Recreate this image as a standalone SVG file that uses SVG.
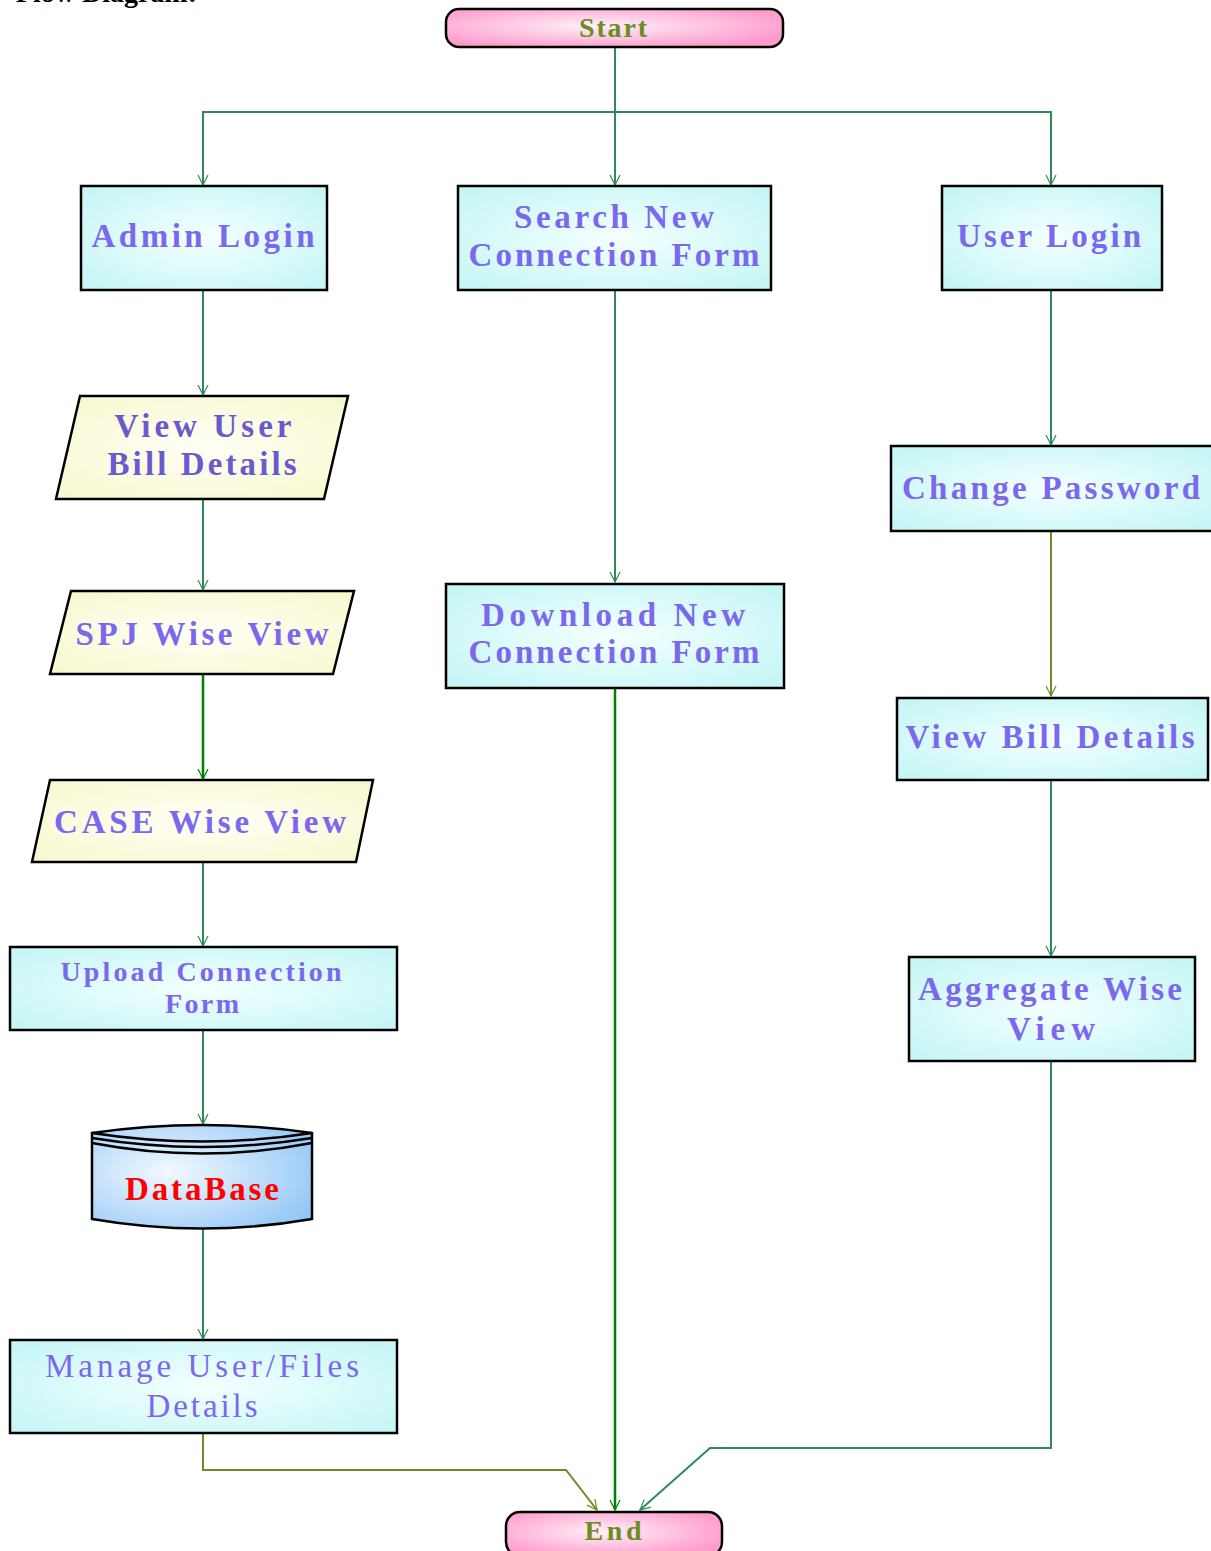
<svg xmlns="http://www.w3.org/2000/svg" width="1211" height="1551" viewBox="0 0 1211 1551">
  <defs>
    <radialGradient id="gCyan" cx="50%" cy="50%" r="65%">
      <stop offset="0" stop-color="#f4ffff"/>
      <stop offset="1" stop-color="#c6f6f6"/>
    </radialGradient>
    <radialGradient id="gYellow" cx="50%" cy="50%" r="65%">
      <stop offset="0" stop-color="#fffff6"/>
      <stop offset="1" stop-color="#f8f8d0"/>
    </radialGradient>
    <radialGradient id="gPink" cx="45%" cy="45%" r="60%">
      <stop offset="0" stop-color="#fff0f8"/>
      <stop offset="1" stop-color="#ff9ccc"/>
    </radialGradient>
    <radialGradient id="gBlue" cx="35%" cy="45%" r="75%">
      <stop offset="0" stop-color="#f2f9ff"/>
      <stop offset="1" stop-color="#92c6f6"/>
    </radialGradient>
    <!-- open V arrowhead, tip at the path end -->
    <marker id="arrow" viewBox="-12 -7 14 14" refX="0" refY="0" markerWidth="14" markerHeight="14" markerUnits="userSpaceOnUse" orient="auto" overflow="visible">
      <path d="M-10,-5 L0,0 L-10,5" fill="none" stroke="context-stroke" stroke-width="1.2"/>
    </marker>
    <marker id="arrowStart" viewBox="-12 -7 14 14" refX="0" refY="0" markerWidth="14" markerHeight="14" markerUnits="userSpaceOnUse" orient="auto-start-reverse" overflow="visible">
      <path d="M-10,-5 L0,0 L-10,5" fill="none" stroke="context-stroke" stroke-width="1.2"/>
    </marker>
  </defs>
  <style>
    .box { fill: url(#gCyan); stroke: #000; stroke-width: 2.5; }
    .para { fill: url(#gYellow); stroke: #000; stroke-width: 2.5; }
    .pill { fill: url(#gPink); stroke: #000; stroke-width: 2.5; }
    .db { fill: url(#gBlue); stroke: #000; stroke-width: 2.5; }
    .lbl { font-family: "Liberation Serif", "Times New Roman", serif; font-weight: bold; font-size: 33px; fill: #7b68ee; text-anchor: middle; }
    .lbl2 { fill: #6a5acd; }
    .thin { font-weight: normal; }
    .term { font-family: "Liberation Serif", "Times New Roman", serif; font-weight: bold; font-size: 28px; fill: #6b8e23; text-anchor: middle; }
    .dbt { font-family: "Liberation Serif", "Times New Roman", serif; font-weight: bold; font-size: 33px; fill: #ff0000; text-anchor: middle; }
    .title { font-family: "Liberation Serif", "Times New Roman", serif; font-weight: bold; font-size: 28px; fill: #000; text-anchor: end; }
    .conn { fill: none; stroke: #2e8b57; stroke-width: 2; }
    .dark { stroke: #008000; stroke-width: 2.5; }
    .olive { stroke: #6b8e23; }
  </style>

  <rect width="1211" height="1551" fill="#ffffff"/>

  <text class="title" x="197" y="2">Flow Diagram:</text>

  <!-- connectors -->
  <g id="connectors">
    <path class="conn" d="M615,47 V185" marker-end="url(#arrow)"/>
    <path class="conn" d="M203,185 V112 H1051 V185" marker-start="url(#arrowStart)" marker-end="url(#arrow)"/>
    <path class="conn" d="M203,290 V395" marker-end="url(#arrow)"/>
    <path class="conn" d="M203,499 V590" marker-end="url(#arrow)"/>
    <path class="conn dark" d="M203,674 V779" marker-end="url(#arrow)"/>
    <path class="conn" d="M203,862 V946" marker-end="url(#arrow)"/>
    <path class="conn" d="M203,1030 V1124" marker-end="url(#arrow)"/>
    <path class="conn" d="M203,1228 V1339" marker-end="url(#arrow)"/>
    <path class="conn olive" d="M203,1433 V1470 H566 L597,1510" marker-end="url(#arrow)"/>
    <path class="conn" d="M615,290 V582" marker-end="url(#arrow)"/>
    <path class="conn dark" d="M615,688 V1510" marker-end="url(#arrow)"/>
    <path class="conn" d="M1051,290 V445" marker-end="url(#arrow)"/>
    <path class="conn olive" d="M1051,531 V696" marker-end="url(#arrow)"/>
    <path class="conn" d="M1051,780 V956" marker-end="url(#arrow)"/>
    <path class="conn" d="M1051,1061 V1448 H710 L640,1510" marker-end="url(#arrow)"/>
  </g>

  <g id="start">
    <rect class="pill" x="446" y="9" width="337" height="38" rx="13"/>
    <text class="term" x="613" y="37" textLength="68">Start</text>
  </g>

  <g id="admin-login">
    <rect class="box" x="81" y="186" width="246" height="104"/>
    <text class="lbl" x="203" y="247" textLength="223">Admin Login</text>
  </g>

  <g id="search-form">
    <rect class="box" x="458" y="186" width="313" height="104"/>
    <text class="lbl" x="614" y="228" textLength="200">Search New</text>
    <text class="lbl" x="614" y="266" textLength="291">Connection Form</text>
  </g>

  <g id="user-login">
    <rect class="box" x="942" y="186" width="220" height="104"/>
    <text class="lbl" x="1049" y="247" textLength="184">User Login</text>
  </g>

  <g id="view-user-bill">
    <polygon class="para" points="80,396 348,396 324,499 56,499"/>
    <text class="lbl lbl2" x="203" y="437" textLength="177">View User</text>
    <text class="lbl lbl2" x="202" y="475" textLength="189">Bill Details</text>
  </g>

  <g id="spj-view">
    <polygon class="para" points="71,591 354,591 333,674 50,674"/>
    <text class="lbl" x="202" y="645" textLength="253">SPJ Wise View</text>
  </g>

  <g id="case-view">
    <polygon class="para" points="50,780 373,780 356,862 32,862"/>
    <text class="lbl" x="200" y="833" textLength="292">CASE Wise View</text>
  </g>

  <g id="upload-form">
    <rect class="box" x="10" y="947" width="387" height="83"/>
    <text class="lbl" style="font-size:28px" x="201" y="981" textLength="281">Upload Connection</text>
    <text class="lbl" style="font-size:28px" x="202" y="1013" textLength="74">Form</text>
  </g>

  <g id="database">
    <path class="db" d="M92,1133 V1219 Q202,1238 312,1219 V1133 Q202,1117 92,1133 Z"/>
    <path class="db" style="fill:none" d="M92,1133 Q202,1150 312,1133"/>
    <path class="db" style="fill:none" d="M92,1138 Q202,1156 312,1138"/>
    <path class="db" style="fill:none" d="M92,1143 Q202,1164 312,1143"/>
    <text class="dbt" x="202" y="1200" textLength="154">DataBase</text>
  </g>

  <g id="manage-details">
    <rect class="box" x="10" y="1340" width="387" height="93"/>
    <text class="lbl thin" x="202" y="1377" textLength="314">Manage User/Files</text>
    <text class="lbl thin" x="202" y="1417" textLength="111">Details</text>
  </g>

  <g id="download-form">
    <rect class="box" x="446" y="584" width="338" height="104"/>
    <text class="lbl" x="613" y="626" textLength="264">Download New</text>
    <text class="lbl" x="614" y="663" textLength="291">Connection Form</text>
  </g>

  <g id="change-password">
    <rect class="box" x="891" y="446" width="322" height="85"/>
    <text class="lbl" x="1051" y="499" textLength="298">Change Password</text>
  </g>

  <g id="view-bill">
    <rect class="box" x="897" y="698" width="311" height="82"/>
    <text class="lbl" x="1050" y="748" textLength="289">View Bill Details</text>
  </g>

  <g id="aggregate-view">
    <rect class="box" x="909" y="957" width="286" height="104"/>
    <text class="lbl" x="1050" y="1000" textLength="264">Aggregate Wise</text>
    <text class="lbl" x="1051" y="1040" textLength="88">View</text>
  </g>

  <g id="end">
    <rect class="pill" x="506" y="1512" width="216" height="44" rx="14"/>
    <text class="term" x="613" y="1540" textLength="57">End</text>
  </g>
</svg>
